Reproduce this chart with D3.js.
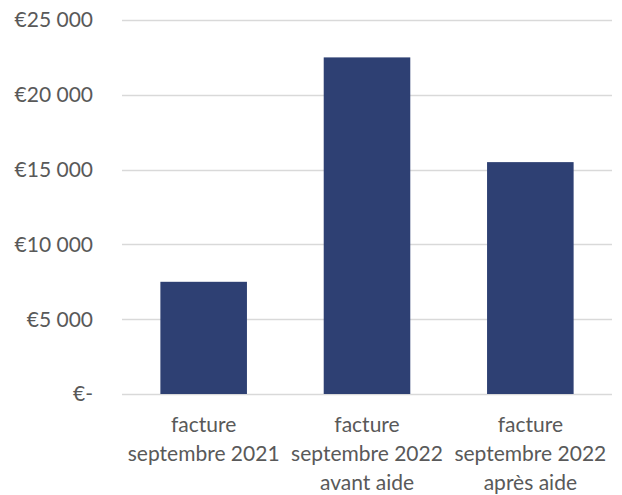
<!DOCTYPE html>
<html>
<head>
<meta charset="utf-8">
<script src="https://cdn.jsdelivr.net/npm/d3@7"></script>
<style>
  body { margin: 0; background: #fff; }
  svg text { font-family: Lato, "Open Sans", sans-serif; fill: #595959; }
</style>
</head>
<body>
<svg id="chart" width="622" height="495"></svg>
<script>
// categories (multi-line labels) and values
var categories = [
  ['facture', 'septembre 2021'],
  ['facture', 'septembre 2022', 'avant aide'],
  ['facture', 'septembre 2022', 'après aide']
];
var values = [7500, 22500, 15500];
var yTicks = [0, 5000, 10000, 15000, 20000, 25000];

var svg = d3.select('#chart');
var margin = { left: 122, right: 10, top: 20, bottom: 101 };
var width = 622 - margin.left - margin.right;
var height = 495 - margin.top - margin.bottom;

var g = svg.append('g').attr('transform', 'translate(' + margin.left + ',' + margin.top + ')');

var x = d3.scaleBand().domain(d3.range(categories.length)).range([0, width]).paddingInner(0.47).paddingOuter(0.235);
var y = d3.scaleLinear().domain([0, 25000]).range([height, 0]);

function fmt(v) {
  if (v === 0) return '€-';
  return '€' + d3.format(',')(v).replace(/,/g, ' ');
}

// grid lines
g.selectAll('line.grid').data(yTicks).enter().append('line')
  .attr('class', 'grid')
  .attr('x1', 0).attr('x2', width)
  .attr('y1', function(d) { return Math.round(y(d)) + 0.5; })
  .attr('y2', function(d) { return Math.round(y(d)) + 0.5; })
  .attr('stroke', '#d9d9d9').attr('stroke-width', 1.5);

// y labels
g.selectAll('text.ylab').data(yTicks).enter().append('text')
  .attr('class', 'ylab')
  .attr('x', -29)
  .attr('y', function(d) { return y(d); })
  .attr('dy', '0.35em')
  .attr('text-anchor', 'end')
  .style('font-size', '21px')
  .text(fmt);

// bars
g.selectAll('rect.bar').data(values).enter().append('rect')
  .attr('class', 'bar')
  .attr('x', function(d, i) { return x(i); })
  .attr('width', x.bandwidth())
  .attr('y', function(d) { return y(d); })
  .attr('height', function(d) { return height - y(d); })
  .attr('fill', '#2e4073');

// category labels
var cat = g.selectAll('text.cat').data(categories).enter().append('text')
  .attr('class', 'cat')
  .attr('text-anchor', 'middle')
  .style('font-size', '21px')
  .attr('transform', function(d, i) { return 'translate(' + (x(i) + x.bandwidth() / 2) + ',' + (height + 38) + ')'; });

cat.selectAll('tspan').data(function(d) { return d; }).enter().append('tspan')
  .attr('x', 0)
  .attr('dy', function(d, i) { return i === 0 ? 0 : 29; })
  .text(function(d) { return d; });
</script>
</body>
</html>
